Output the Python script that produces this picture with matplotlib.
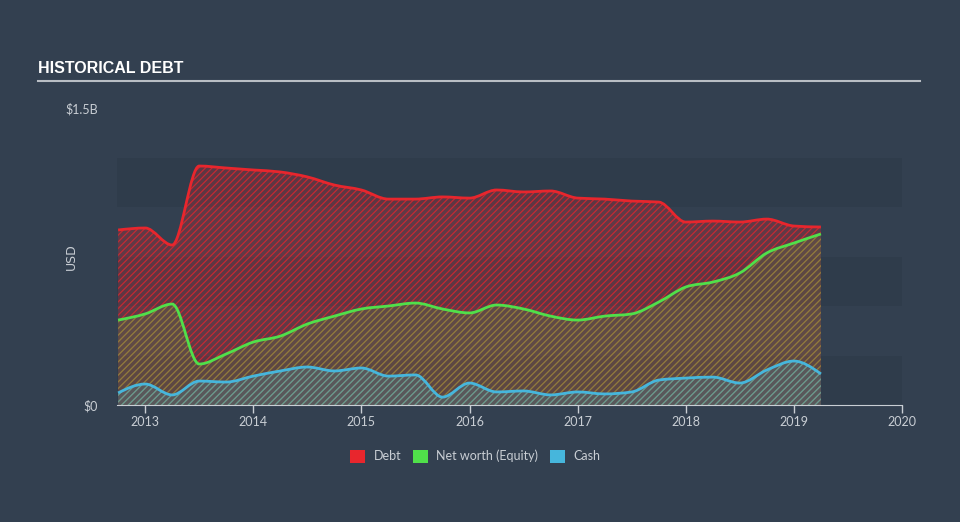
import numpy as np
import matplotlib
matplotlib.use("Agg")
import matplotlib.pyplot as plt
from matplotlib.path import Path
from matplotlib.patches import PathPatch, Patch
from matplotlib.colors import to_rgb

# quarterly points, values in USD billions
dates = [2012.75, 2013.0, 2013.25, 2013.5, 2013.75, 2014.0, 2014.25, 2014.5, 2014.75,
         2015.0, 2015.25, 2015.5, 2015.75, 2016.0, 2016.25, 2016.5, 2016.75,
         2017.0, 2017.25, 2017.5, 2017.75, 2018.0, 2018.25, 2018.5, 2018.75,
         2019.0, 2019.25]
debt = [0.884, 0.894, 0.808, 1.207, 1.197, 1.187, 1.177, 1.152, 1.111,
        1.086, 1.040, 1.040, 1.051, 1.045, 1.086, 1.076, 1.081,
        1.045, 1.040, 1.030, 1.025, 0.924, 0.929, 0.924, 0.939,
        0.904, 0.899]
equity = [0.429, 0.460, 0.510, 0.207, 0.258, 0.318, 0.348, 0.409, 0.449,
          0.485, 0.500, 0.515, 0.485, 0.465, 0.505, 0.485, 0.449,
          0.429, 0.449, 0.460, 0.520, 0.596, 0.621, 0.667, 0.768,
          0.818, 0.864]
cash = [0.061, 0.106, 0.051, 0.121, 0.116, 0.146, 0.172, 0.192, 0.172,
        0.187, 0.146, 0.152, 0.040, 0.111, 0.066, 0.071, 0.051,
        0.066, 0.056, 0.066, 0.126, 0.136, 0.141, 0.111, 0.177,
        0.222, 0.157]

year_ticks = [2013, 2014, 2015, 2016, 2017, 2018, 2019, 2020]
series = [("Debt", debt, "#e8262d"), ("Net worth (Equity)", equity, "#50e04a"), ("Cash", cash, "#46b6dc")]
# (face alpha, hatch alpha) per series
fill_alpha = [(0.26, 0.72), (0.10, 0.40), (0.16, 0.45)]

BG = "#334050"
TXT = "#c9ced4"


def monotone_slopes(x, y):
    # same tangents as d3.curveMonotoneX
    x = np.asarray(x, float)
    y = np.asarray(y, float)
    h = np.diff(x)
    s = np.diff(y) / h
    m = np.zeros_like(y)
    for i in range(1, len(y) - 1):
        p = (s[i - 1] * h[i] + s[i] * h[i - 1]) / (h[i - 1] + h[i])
        m[i] = (np.sign(s[i - 1]) + np.sign(s[i])) * min(abs(s[i - 1]), abs(s[i]), 0.5 * abs(p))
    m[0] = (3 * s[0] - m[1]) / 2
    m[-1] = (3 * s[-1] - m[-2]) / 2
    return m


def curve_path(x, y, close=False):
    m = monotone_slopes(x, y)
    verts = [(x[0], y[0])]
    codes = [Path.MOVETO]
    for i in range(len(x) - 1):
        h = (x[i + 1] - x[i]) / 3
        verts += [(x[i] + h, y[i] + m[i] * h), (x[i + 1] - h, y[i + 1] - m[i + 1] * h), (x[i + 1], y[i + 1])]
        codes += [Path.CURVE4] * 3
    if close:
        verts += [(x[-1], 0), (x[0], 0), (x[0], y[0])]
        codes += [Path.LINETO, Path.LINETO, Path.CLOSEPOLY]
    return Path(verts, codes)


plt.rcParams["hatch.linewidth"] = 0.9
fig = plt.figure(figsize=(9.6, 5.22), dpi=100, facecolor=BG)
ax = fig.add_axes([0.1219, 0.2241, 0.8177, 0.569])
ax.set_facecolor(BG)

# background bands
for i in range(5):
    ax.axhspan(i * 0.25, (i + 1) * 0.25, color="#2f3c4b" if i % 2 == 0 else "#334050", lw=0, zorder=0)

for (name, vals, col), (fa, ha) in zip(series, fill_alpha):
    ax.add_patch(PathPatch(curve_path(dates, vals, close=True), facecolor=(*to_rgb(col), fa),
                           edgecolor=(*to_rgb(col), ha), hatch="/////", lw=0, zorder=1))
for name, vals, col in series:
    ax.add_patch(PathPatch(curve_path(dates, vals), fill=False, edgecolor=col, lw=2, zorder=3))

ax.set_xlim(2012.74, 2020.0)
ax.set_ylim(0, 1.5)
ax.set_xticks(year_ticks)
ax.set_xticklabels([str(y) for y in year_ticks])
ax.set_yticks([0, 1.5])
ax.set_yticklabels(["$0", "$1.5B"])
ax.tick_params(axis="x", colors="#c9ced4", labelcolor=TXT, labelsize=9, length=6, width=1, pad=2)
ax.tick_params(axis="y", length=0, labelcolor=TXT, labelsize=9, pad=14)
for sp in ["top", "right", "left"]:
    ax.spines[sp].set_visible(False)
ax.spines["bottom"].set_color("#c9ced4")
ax.set_ylabel("USD", color=TXT, fontsize=9, labelpad=2)
ax.yaxis.set_label_coords(-0.05, 0.5)
for lab in ax.get_xticklabels() + ax.get_yticklabels():
    lab.set_family("Lato")

fig.text(0.04, 0.868, "HISTORICAL DEBT", color="white", fontsize=11.5, fontweight="bold",
         family=["Liberation Sans Narrow", "Liberation Sans"], fontstretch="condensed", va="center")
fig.add_artist(plt.Line2D([0.04, 0.958], [0.845, 0.845], color="#b9bec4", lw=1.5))

handles = [Patch(facecolor=c, edgecolor="none", label=n) for n, v, c in series]
leg = fig.legend(handles=handles, loc="center", bbox_to_anchor=(0.495, 0.126), ncol=3, frameon=False,
                 handlelength=1.2, handleheight=1.2, columnspacing=0.9, handletextpad=0.7,
                 labelcolor=TXT, prop={"family": "Lato", "size": 9})

fig.savefig("out.png", dpi=100, facecolor=BG)
